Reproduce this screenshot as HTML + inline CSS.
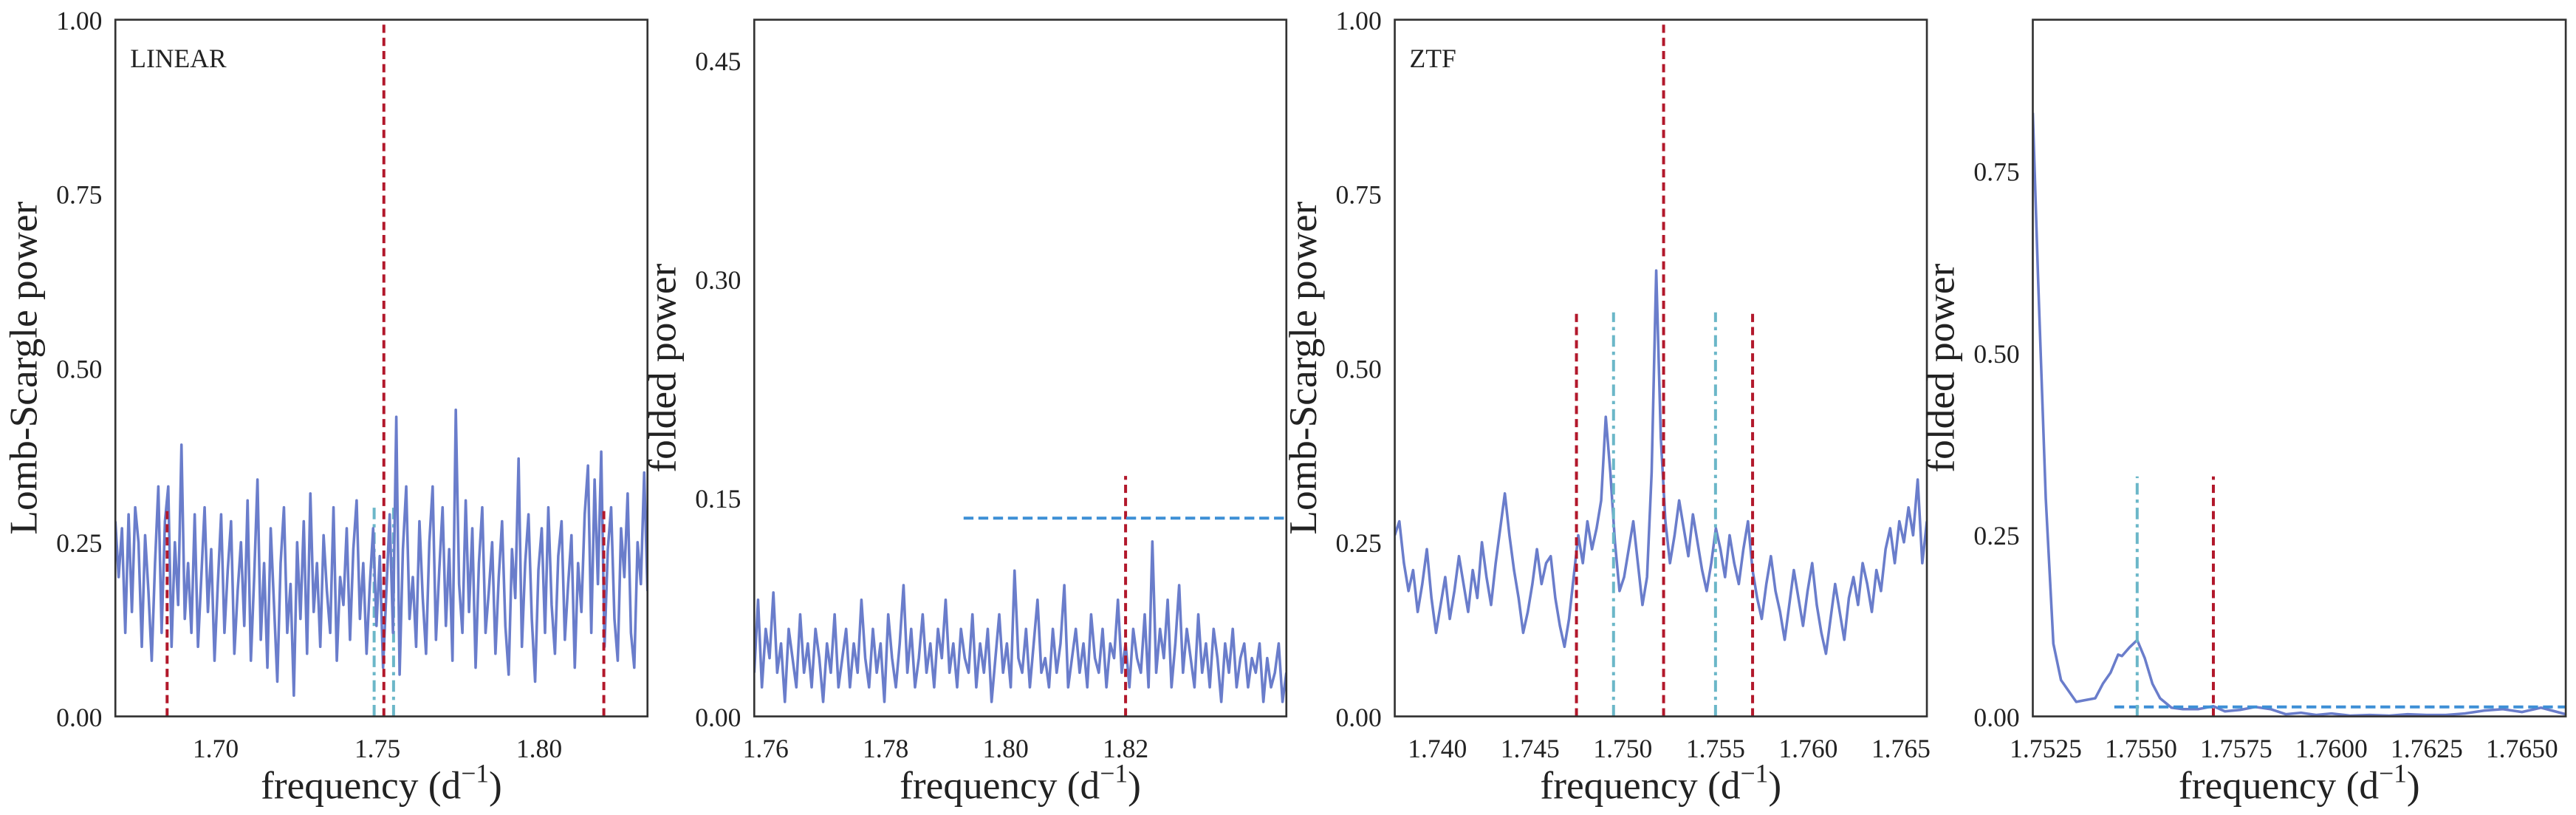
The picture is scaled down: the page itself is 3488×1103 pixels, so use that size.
<!DOCTYPE html>
<html><head><meta charset="utf-8"><style>
html,body{margin:0;padding:0;background:#fff;}
svg{display:block;font-family:"Liberation Serif",serif;}
</style></head><body>
<svg id="chart" width="3488" height="1103" viewBox="0 0 1568 496" xmlns="http://www.w3.org/2000/svg"></svg>
<script>
const p1Values=[0.28,0.20,0.27,0.12,0.29,0.15,0.30,0.25,0.10,0.26,0.18,0.08,0.22,0.33,0.12,0.28,0.33,0.10,0.25,0.16,0.39,0.14,0.22,0.12,0.29,0.10,0.20,0.30,0.15,0.24,0.08,0.19,0.29,0.12,0.21,0.28,0.09,0.18,0.25,0.13,0.31,0.08,0.20,0.34,0.11,0.22,0.07,0.27,0.16,0.05,0.22,0.30,0.12,0.19,0.03,0.25,0.14,0.28,0.09,0.32,0.15,0.22,0.10,0.26,0.18,0.12,0.30,0.08,0.20,0.16,0.27,0.11,0.24,0.31,0.14,0.22,0.09,0.19,0.27,0.13,0.23,0.07,0.18,0.29,0.12,0.43,0.06,0.24,0.33,0.14,0.20,0.10,0.28,0.17,0.09,0.25,0.33,0.11,0.21,0.30,0.13,0.24,0.08,0.44,0.19,0.12,0.31,0.15,0.27,0.07,0.22,0.30,0.12,0.18,0.25,0.09,0.20,0.28,0.13,0.06,0.24,0.17,0.37,0.10,0.22,0.29,0.14,0.05,0.21,0.27,0.12,0.30,0.16,0.09,0.23,0.28,0.11,0.19,0.26,0.07,0.22,0.15,0.29,0.36,0.12,0.34,0.19,0.38,0.10,0.24,0.30,0.14,0.08,0.27,0.20,0.32,0.12,0.07,0.25,0.19,0.35,0.18];
const p2Values=[0.03,0.08,0.02,0.06,0.04,0.085,0.03,0.05,0.01,0.06,0.04,0.02,0.07,0.03,0.05,0.02,0.06,0.04,0.01,0.05,0.03,0.07,0.02,0.04,0.06,0.02,0.05,0.03,0.08,0.04,0.02,0.06,0.03,0.05,0.01,0.07,0.04,0.02,0.05,0.09,0.03,0.06,0.02,0.04,0.07,0.03,0.05,0.02,0.06,0.04,0.08,0.03,0.05,0.02,0.06,0.04,0.03,0.07,0.02,0.05,0.03,0.06,0.01,0.04,0.07,0.03,0.05,0.02,0.1,0.04,0.03,0.06,0.02,0.05,0.08,0.03,0.04,0.02,0.06,0.03,0.05,0.09,0.02,0.04,0.06,0.03,0.05,0.02,0.07,0.04,0.03,0.06,0.02,0.05,0.04,0.08,0.03,0.05,0.02,0.06,0.04,0.03,0.07,0.02,0.12,0.03,0.06,0.04,0.08,0.02,0.05,0.09,0.03,0.06,0.04,0.02,0.07,0.03,0.05,0.02,0.06,0.04,0.01,0.05,0.03,0.06,0.02,0.04,0.05,0.02,0.04,0.03,0.05,0.01,0.04,0.02,0.03,0.05,0.01,0.03];
const p3Values=[0.26,0.28,0.22,0.18,0.21,0.15,0.19,0.24,0.17,0.12,0.16,0.20,0.14,0.18,0.23,0.19,0.15,0.21,0.17,0.25,0.20,0.16,0.22,0.27,0.32,0.26,0.21,0.17,0.12,0.15,0.19,0.24,0.19,0.22,0.23,0.17,0.13,0.10,0.14,0.20,0.26,0.22,0.28,0.24,0.27,0.31,0.43,0.35,0.25,0.18,0.20,0.24,0.28,0.22,0.16,0.20,0.35,0.64,0.40,0.28,0.22,0.26,0.31,0.27,0.23,0.29,0.25,0.21,0.18,0.22,0.27,0.24,0.20,0.26,0.22,0.19,0.24,0.28,0.21,0.17,0.14,0.19,0.23,0.18,0.15,0.11,0.16,0.21,0.17,0.13,0.18,0.22,0.16,0.12,0.09,0.14,0.19,0.15,0.11,0.17,0.20,0.16,0.22,0.19,0.15,0.21,0.18,0.24,0.27,0.22,0.28,0.25,0.30,0.26,0.34,0.22,0.28];
const p4Freqs=[1.75216,1.7523,1.7525,1.7527,1.7529,1.7531,1.7533,1.7535,1.7538,1.7540,1.7542,1.7544,1.7545,1.7547,1.7549,1.7551,1.7553,1.7555,1.7558,1.7561,1.7565,1.7569,1.7572,1.7576,1.7580,1.7584,1.7588,1.7592,1.7596,1.7600,1.7605,1.7610,1.7615,1.7620,1.7625,1.7630,1.7635,1.7640,1.7645,1.7650,1.7655,1.76615];
const p4Values=[0.83,0.60,0.30,0.10,0.05,0.035,0.02,0.022,0.025,0.045,0.06,0.085,0.083,0.095,0.105,0.08,0.045,0.025,0.012,0.01,0.01,0.014,0.007,0.009,0.013,0.01,0.003,0.005,0.002,0.004,0.001,0.002,0.001,0.003,0.002,0.002,0.004,0.008,0.01,0.006,0.012,0.003];
const p1XTicks=[1.70,1.75,1.80], p1YTicks=[0,0.25,0.5,0.75,1.0];
const p2XTicks=[1.76,1.78,1.80,1.82], p2YTicks=[0,0.15,0.30,0.45];
const p3XTicks=[1.740,1.745,1.750,1.755,1.760,1.765], p3YTicks=[0,0.25,0.5,0.75,1.0];
const p4XTicks=[1.7525,1.7550,1.7575,1.7600,1.7625,1.7650], p4YTicks=[0,0.25,0.5,0.75];
const p1Red=[1.685,1.752,1.820], p1Cyan=[1.749,1.755];
const p3Red=[1.7475,1.7522,1.757], p3Cyan=[1.7495,1.755];

const svg=document.getElementById('chart');
const NS='http://www.w3.org/2000/svg';
function mk(tag,attrs,parent){const e=document.createElementNS(NS,tag);for(const k in attrs)e.setAttribute(k,attrs[k]);(parent||svg).appendChild(e);return e;}
const LINE='#6a7dcb',RED='#b2182b',CYAN='#6bb7c8',BLUE='#3d8fd6';
const T=12,B=436;

function panel(idx,L,R,xmin,xmax,ymin,ymax,xt,yt,xdec,ydec,ylab,tag){
  const g=mk('g',{});
  
  
  const sx=v=>L+(v-xmin)/(xmax-xmin)*(R-L);
  const sy=v=>B-(v-ymin)/(ymax-ymin)*(B-T);
  const cp=mk('clipPath',{id:'clip'+idx},g);
  mk('rect',{x:L,y:T,width:R-L,height:B-T},cp);
  const plot=mk('g',{'clip-path':'url(#clip'+idx+')'},g);
  xt.forEach(v=>{const t=mk('text',{x:sx(v),y:B+25,'font-size':16,'text-anchor':'middle',fill:'#222'},g);t.textContent=v.toFixed(xdec);
    });
  yt.forEach(v=>{const t=mk('text',{x:L-8,y:sy(v)+6,'font-size':16,'text-anchor':'end',fill:'#222'},g);t.textContent=v.toFixed(ydec);
    });
  const xl=mk('text',{x:(L+R)/2,y:486,'font-size':24,'text-anchor':'middle',fill:'#222'},g);
  xl.innerHTML='frequency (d<tspan font-size="16" dy="-10">−1</tspan><tspan dy="10">)</tspan>';
  
  const yl=mk('text',{transform:`translate(${L-48},${(T+B)/2}) rotate(-90)`,'font-size':24,'text-anchor':'middle',fill:'#222'},g);
  yl.textContent=ylab;
  
  if(tag){const t=mk('text',{x:L+9,y:T+29,'font-size':16,fill:'#222'},g);t.textContent=tag;
    }
  const frame=mk('rect',{x:L,y:T,width:R-L,height:B-T,fill:'none',stroke:'#333','stroke-width':1.2},g);
  
  return {plot,sx,sy};
}
function series(p,xs,ys,name){
  const pl=mk('polyline',{points:xs.map((x,i)=>p.sx(x)+','+p.sy(ys[i])).join(' '),fill:'none',stroke:LINE,'stroke-width':1.6,'stroke-linejoin':'round'},p.plot);
  
}
function vline(p,x,y0,y1,color,dash,name){
  const l=mk('line',{x1:p.sx(x),x2:p.sx(x),y1:p.sy(y0),y2:p.sy(y1),stroke:color,'stroke-width':1.8,'stroke-dasharray':dash},p.plot);
  
}
function hline(p,y,x0,x1,name){
  const l=mk('line',{x1:p.sx(x0),x2:p.sx(x1),y1:p.sy(y),y2:p.sy(y),stroke:BLUE,'stroke-width':1.8,'stroke-dasharray':'6,3'},p.plot);
  
}
const lin=(a,b,n)=>Array.from({length:n},(_,i)=>a+(b-a)*i/(n-1));
const DASH='5,3', DASHDOT='7,3,2,3';

// Panel 1
const a=panel(1,70,394,1.669,1.8335,0,1,p1XTicks,p1YTicks,2,2,'Lomb-Scargle power','LINEAR');
p1Cyan.forEach(v=>vline(a,v,0,0.3,CYAN,DASHDOT,'alias-line'));
series(a,lin(1.669,1.8335,p1Values.length),p1Values,'linear-periodogram');
vline(a,p1Red[0],0,0.3,RED,DASH,'alias-red-line');
vline(a,p1Red[1],0,1,RED,DASH,'true-frequency-line');
vline(a,p1Red[2],0,0.3,RED,DASH,'alias-red-line');

// Panel 2
const b=panel(2,459,783,1.7581,1.8468,0,0.478,p2XTicks,p2YTicks,2,2,'folded power',null);
series(b,lin(1.7581,1.8468,p2Values.length),p2Values,'linear-folded-power');
vline(b,1.7555+0.0003,0,0.165,CYAN,DASHDOT,'cyan-marker');
vline(b,1.820,0,0.165,RED,DASH,'red-marker');
hline(b,0.136,1.7930,1.8468,'threshold-line');

// Panel 3
const c=panel(3,849,1173,1.7377,1.7664,0,1,p3XTicks,p3YTicks,3,2,'Lomb-Scargle power','ZTF');
series(c,lin(1.7377,1.7664,p3Values.length),p3Values,'ztf-periodogram');
p3Cyan.forEach(v=>vline(c,v,0,0.58,CYAN,DASHDOT,'alias-line'));
vline(c,p3Red[0],0,0.58,RED,DASH,'alias-red-line');
vline(c,p3Red[1],0,1,RED,DASH,'true-frequency-line');
vline(c,p3Red[2],0,0.58,RED,DASH,'alias-red-line');

// Panel 4
const d=panel(4,1237.5,1562,1.75216,1.76615,0,0.958,p4XTicks,p4YTicks,4,2,'folded power',null);
series(d,p4Freqs,p4Values,'ztf-folded-power');
hline(d,0.013,1.7543,1.76615,'threshold-line');
vline(d,1.7549,0,0.33,CYAN,DASHDOT,'cyan-marker');
vline(d,1.7569,0,0.33,RED,DASH,'red-marker');
</script>
</body></html>
